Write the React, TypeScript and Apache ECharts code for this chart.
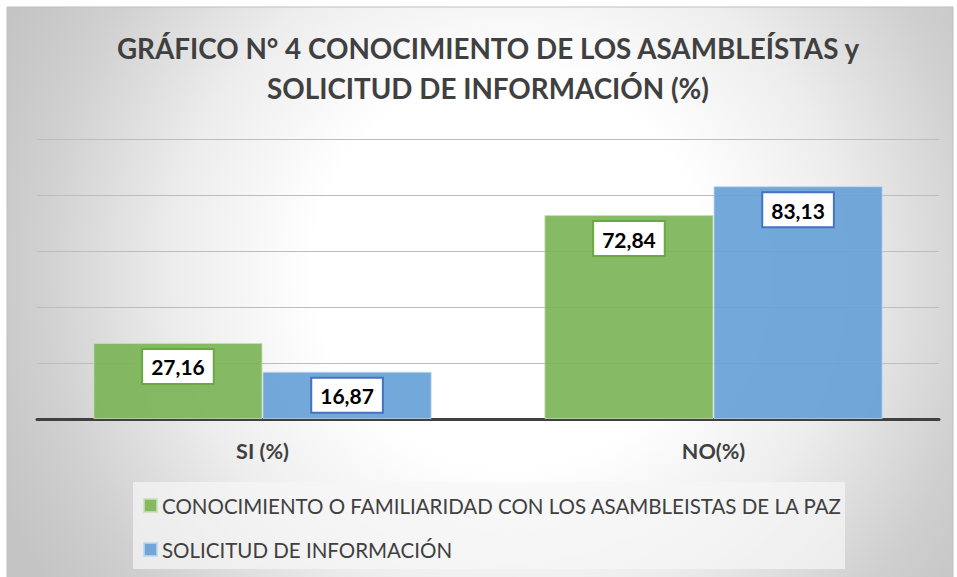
import React, { useEffect, useRef } from "react";
import * as echarts from "echarts";

const titleLines = ["GRÁFICO N° 4 CONOCIMIENTO DE LOS ASAMBLEÍSTAS y", "SOLICITUD DE INFORMACIÓN (%)"];
const categories = ["SI (%)", "NO(%)"];
const seriesNames = [
  "CONOCIMIENTO O FAMILIARIDAD CON LOS ASAMBLEISTAS DE LA PAZ",
  "SOLICITUD DE INFORMACIÓN",
];
const conocimiento = [27.16, 72.84];
const solicitud = [16.87, 83.13];
const yTicks = [0, 20, 40, 60, 80, 100];

const FONT = "Lato, 'Open Sans', sans-serif";

export default function App() {
  const ref = useRef<HTMLDivElement>(null);
  useEffect(() => {
    if (!ref.current) return;
    const chart = echarts.init(ref.current, null, { renderer: "svg" });
    const fmt = (p: any) => Number(p.value).toFixed(2).replace(".", ",");
    const labelBase = {
      show: true,
      position: "insideTop",
      distance: 7,
      formatter: fmt,
      backgroundColor: "#ffffff",
      borderWidth: 2,
      padding: [6, 8, 5, 8],
      fontFamily: FONT,
      fontWeight: "bold",
      fontSize: 21,
      lineHeight: 22,
      color: "#000000",
    };
    const legendBase = {
      orient: "vertical",
      left: 143,
      padding: 0,
      itemWidth: 13,
      itemHeight: 13,
      icon: "rect",
      textStyle: {
        fontFamily: FONT,
        fontSize: 20.5,
        lineHeight: 13,
        color: "#404040",
      },
      itemGap: 5,
    };
    chart.setOption({
      animation: false,
      graphic: [
        {
          type: "rect",
          shape: { x: 7, y: 7, width: 946, height: 580 },
          style: {
            stroke: "#bfbfbf",
            lineWidth: 1,
            fill: new echarts.graphic.RadialGradient(510, 270, 560, [
              { offset: 0, color: "#ffffff" },
              { offset: 0.35, color: "#ffffff" },
              { offset: 0.6, color: "#ededed" },
              { offset: 0.85, color: "#cfcfcf" },
              { offset: 1, color: "#c4c4c4" },
            ], true),
          },
          z: -10,
          silent: true,
        },
        {
          type: "rect",
          shape: { x: 133, y: 482, width: 712, height: 87 },
          style: { fill: "rgba(246,246,246,0.7)" },
          z: -5,
          silent: true,
        },
        ...titleLines.map((t, i) => ({
          type: "text",
          x: 488,
          y: 48 + i * 40,
          style: {
            text: t,
            fill: "#404040",
            font: `bold 27.8px ${FONT}`,
            textAlign: "center",
            textVerticalAlign: "middle",
          },
          z: 10,
        })),
      ],
      grid: { left: 37, right: 18, top: 139, bottom: 158 },
      legend: [
        { ...legendBase, top: 495, data: [seriesNames[0]] },
        { ...legendBase, top: 539, data: [seriesNames[1]] },
      ],
      xAxis: {
        type: "category",
        data: categories,
        axisLine: { lineStyle: { color: "#404040", width: 3 } },
        axisTick: { show: false },
        axisLabel: {
          fontFamily: FONT,
          fontWeight: "bold",
          fontSize: 21.5,
          color: "#404040",
          margin: 21,
        },
      },
      yAxis: {
        type: "value",
        min: yTicks[0],
        max: yTicks[yTicks.length - 1],
        interval: yTicks[1] - yTicks[0],
        axisLabel: { show: false },
        axisLine: { show: false },
        axisTick: { show: false },
        splitLine: { lineStyle: { color: "#bdbdbd", width: 1.2 } },
      },
      series: [
        {
          name: seriesNames[0],
          type: "bar",
          data: conocimiento,
          barCategoryGap: "25%",
          barGap: "0%",
          itemStyle: {
            color: "rgba(122,178,84,0.9)",
            borderColor: "rgba(200,225,180,0.8)",
            borderWidth: 1,
          },
          label: { ...labelBase, borderColor: "#6aa842" },
        },
        {
          name: seriesNames[1],
          type: "bar",
          data: solicitud,
          barCategoryGap: "25%",
          barGap: "0%",
          itemStyle: {
            color: "rgba(100,158,214,0.9)",
            borderColor: "rgba(190,215,240,0.8)",
            borderWidth: 1,
          },
          label: { ...labelBase, borderColor: "#4472c4" },
        },
      ],
    });
    return () => chart.dispose();
  }, []);
  return (
    <div
      ref={ref}
      style={{ position: "absolute", left: 0, top: 0, width: 957, height: 577 }}
    />
  );
}
